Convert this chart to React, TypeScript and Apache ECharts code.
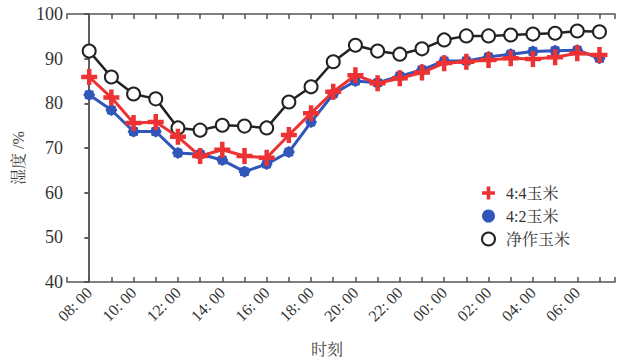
import React, { useEffect, useRef } from "react";
import * as echarts from "echarts";

const hours = [8, 9, 10, 11, 12, 13, 14, 15, 16, 17, 18, 19, 20, 21, 22, 23, 0, 1, 2, 3, 4, 5, 6, 7];
const yTicks = [40, 50, 60, 70, 80, 90, 100];
const series44 = [85.9, 81.3, 75.6, 75.8, 72.5, 68.2, 69.6, 68.2, 67.8, 72.9, 77.8, 82.6, 86.3, 84.5, 85.6, 86.9, 89.0, 89.3, 89.7, 90.1, 89.9, 90.3, 91.2, 90.8];
const series42 = [81.9, 78.5, 73.7, 73.7, 68.9, 68.6, 67.3, 64.7, 66.4, 69.1, 75.8, 82.1, 85.0, 84.6, 86.1, 87.5, 89.5, 89.5, 90.4, 91.0, 91.6, 91.8, 91.9, 90.1];
const seriesMono = [91.7, 85.9, 82.1, 81.0, 74.5, 74.0, 75.1, 74.9, 74.5, 80.3, 83.7, 89.3, 93.0, 91.7, 91.0, 92.2, 94.2, 95.1, 95.1, 95.3, 95.5, 95.7, 96.2, 96.0];
const names = ["4:4玉米", "4:2玉米", "净作玉米"];

const FONT = "'Liberation Serif', 'Noto Serif CJK SC', 'Noto Sans CJK SC', serif";
const RED = "#ec3232";
const BLUE = "#2f56b8";
const BLACK = "#222222";

const plusPath = "path://M3.6,0H6.4V3.6H10V6.4H6.4V10H3.6V6.4H0V3.6H3.6Z";
const starPath = (() => {
  const pts: string[] = [];
  const n = 16;
  for (let k = 0; k < n; k++) {
    const r = k % 2 === 0 ? 5 : 4.2;
    const a = (Math.PI * 2 * k) / n;
    pts.push(`${(5 + r * Math.cos(a)).toFixed(2)},${(5 + r * Math.sin(a)).toFixed(2)}`);
  }
  return "path://M" + pts.join("L") + "Z";
})();

const pad = (h: number) => (h < 10 ? "0" + h : "" + h);
const hourLabels = hours.map((h) => pad(h) + ": 00");

export default function App() {
  const ref = useRef<HTMLDivElement>(null);
  useEffect(() => {
    if (!ref.current) return;
    const chart = echarts.init(ref.current, undefined, { renderer: "svg" });
    const toPts = (arr: number[]) => arr.map((v, i) => [i, v]);
    const axisLine = { show: true, lineStyle: { color: "#555", width: 1.5 } };
    const tickStyle = { color: "#555", width: 1.5 };
    chart.setOption({
      animation: false,
      backgroundColor: "#fff",
      grid: { left: 67, top: 14, right: 9, bottom: 78 },
      xAxis: [
        {
          type: "value",
          min: -1,
          max: 23.7,
          interval: 1,
          axisLine,
          axisTick: { show: true, inside: true, length: 5, lineStyle: tickStyle },
          splitLine: { show: false },
          axisLabel: {
            show: true,
            rotate: 45,
            margin: 8,
            fontFamily: FONT,
            fontSize: 16,
            color: "#333",
            formatter: (v: number) => {
              const i = Math.round(v);
              if (i < 0 || i > 23 || i % 2 !== 0 || Math.abs(v - i) > 1e-6) return "";
              return hourLabels[i];
            },
          },
        },
        {
          type: "value",
          position: "top",
          min: -1,
          max: 23.7,
          interval: 1,
          axisLine,
          axisTick: { show: true, inside: true, length: 5, lineStyle: tickStyle },
          splitLine: { show: false },
          axisLabel: { show: false },
        },
      ],
      yAxis: [
        {
          type: "value",
          min: yTicks[0],
          max: yTicks[yTicks.length - 1],
          interval: 10,
          axisLine,
          axisTick: { show: true, inside: false, length: 4, lineStyle: tickStyle },
          splitLine: { show: false },
          axisLabel: { margin: 4, fontFamily: FONT, fontSize: 18, color: "#333" },
        },
        {
          type: "value",
          position: "right",
          min: yTicks[0],
          max: yTicks[yTicks.length - 1],
          interval: 10,
          axisLine,
          axisTick: { show: true, inside: true, length: 5, lineStyle: tickStyle },
          splitLine: { show: false },
          axisLabel: { show: false },
        },
      ],
      legend: {
        orient: "vertical",
        left: 476,
        top: 180,
        itemGap: 7,
        itemWidth: 13,
        itemHeight: 13,
        textStyle: { fontFamily: FONT, fontSize: 16, color: "#333", padding: [0, 0, 0, 6] },
        data: [
          { name: names[0], icon: plusPath, itemStyle: { color: RED } },
          { name: names[1], icon: "circle", itemStyle: { color: BLUE } },
          { name: names[2], icon: "emptyCircle", itemStyle: { color: BLACK, borderColor: BLACK, borderWidth: 2.5 } },
        ],
      },
      graphic: [
        {
          type: "text",
          x: 18,
          y: 158,
          rotation: Math.PI / 2,
          style: { text: "湿度 /%", fontFamily: FONT, fontSize: 16, fill: "#444", align: "center", verticalAlign: "middle" },
        },
        {
          type: "text",
          x: 327,
          y: 349,
          style: { text: "时刻", fontFamily: FONT, fontSize: 16, fill: "#444", align: "center", verticalAlign: "middle" },
        },
      ],
      series: [
        {
          name: names[2],
          type: "line",
          data: toPts(seriesMono),
          symbol: "emptyCircle",
          symbolSize: 13,
          lineStyle: { color: BLACK, width: 2.5 },
          itemStyle: { color: BLACK, borderColor: BLACK, borderWidth: 3.5 },
          z: 2,
        },
        {
          name: names[1],
          type: "line",
          data: toPts(series42),
          symbol: starPath,
          symbolSize: 12,
          lineStyle: { color: BLUE, width: 3 },
          itemStyle: { color: BLUE },
          z: 3,
        },
        {
          name: names[0],
          type: "line",
          data: toPts(series44),
          symbol: plusPath,
          symbolSize: 16,
          lineStyle: { color: RED, width: 3 },
          itemStyle: { color: RED },
          z: 4,
        },
      ],
    });
    return () => chart.dispose();
  }, []);
  return <div ref={ref} style={{ width: 624, height: 360, position: "absolute", left: 0, top: 0 }} />;
}
